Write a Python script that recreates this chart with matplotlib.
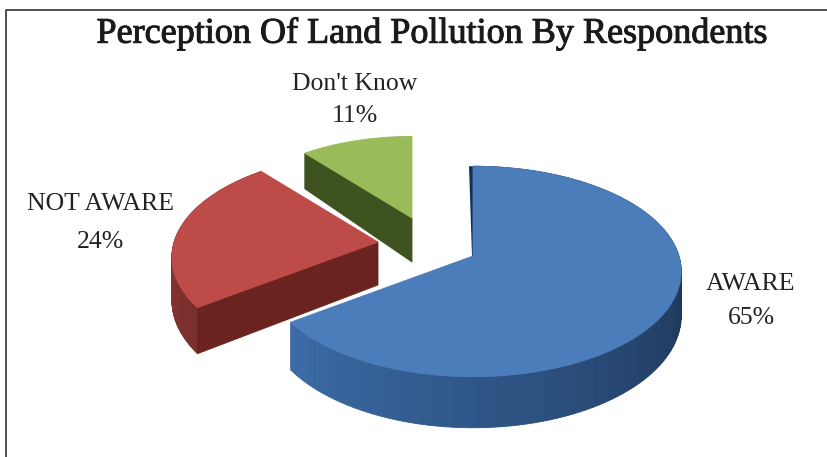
import numpy as np
import matplotlib
matplotlib.use('Agg')
import matplotlib.pyplot as plt
import matplotlib.patheffects as pe
from matplotlib.colors import to_rgb
from matplotlib.patches import Polygon

# Data
labels = ['AWARE', 'NOT AWARE', "Don't Know"]
shares = [65, 24, 11]
title = 'Perception Of Land Pollution By Respondents'

# Look of each slice, same order as the data
apex_x = [473, 378, 412]
apex_y = [256, 242, 218]
scales = [0.99, 0.98, 0.9]
depths = [44, 43, 44]
top_colors = ['#4a7dba', '#bd4c49', '#9abb59']
cut_colors = ['#3b6aa3', '#6b2320', '#3f5320']
side_left = ['#3c6ca8', '#93403d', '#5d7a2c']
side_right = ['#1b3354', '#7a2e2b', '#5d7a2c']
label_x = [751, 101, 355]
label_y = [301, 223, 100]
label_gap = [1.76, 1.98, 1.53]

# Pie shape in pixels
rx = 208
ry = 104
persp = 0.147


def project(theta):
    # theta is clockwise from 12 o'clock
    x = np.sin(theta)
    y = np.cos(theta)
    d = 1 + persp * y
    return x * rx / d, -y * ry / d, 1 / d


fig = plt.figure(figsize=(8.28, 4.57), dpi=100)
ax = fig.add_axes([0, 0, 1, 1])
ax.set_xlim(0, 828)
ax.set_ylim(457, 0)
ax.axis('off')

# Frame, open at the right and bottom
ax.plot([6, 6, 828], [457, 10, 10], color='#333333', lw=1.2)

ends = np.cumsum(shares) / np.sum(shares) * 2 * np.pi
starts = ends - np.array(shares) / np.sum(shares) * 2 * np.pi

# Far slices first
for i in [2, 1, 0]:
    t = np.linspace(starts[i], ends[i], 120)
    px, py, pd = project(t)
    xs = apex_x[i] + px * scales[i]
    ys = apex_y[i] + py * scales[i]
    dp = depths[i] * pd * scales[i]
    base = i * -10

    # Outer wall, shaded along the arc
    if i < 2:
        c1 = np.array(to_rgb(side_left[i]))
        c2 = np.array(to_rgb(side_right[i]))
        for j in range(len(t) - 1):
            if i == 0:
                f = 1 - np.clip((t[j] - np.pi / 2) / (ends[i] - np.pi / 2), 0, 1)
            else:
                f = 1 - (t[j] - starts[i]) / (ends[i] - starts[i])
            col = c1 + (c2 - c1) * f
            quad = [(xs[j], ys[j]), (xs[j + 1], ys[j + 1]),
                    (xs[j + 1], ys[j + 1] + dp[j + 1]), (xs[j], ys[j] + dp[j])]
            ax.add_patch(Polygon(quad, fc=col, ec=col, lw=0.6, zorder=base + 1))

    # Cut wall that faces the viewer
    if i == 0:
        # seen almost edge on along 12 o'clock
        quad = [(xs[0], ys[0]), (apex_x[i], apex_y[i]),
                (apex_x[i] - 1, apex_y[i]), (xs[0] - 4, ys[0])]
        ax.add_patch(Polygon(quad, fc='#14305a', ec='none', zorder=-1))
    else:
        quad = [(xs[0], ys[0]), (apex_x[i], apex_y[i]),
                (apex_x[i], apex_y[i] + depths[i]), (xs[0], ys[0] + dp[0])]
        ax.add_patch(Polygon(quad, fc=cut_colors[i], ec=cut_colors[i], lw=0.6,
                             zorder=base + 2))

    # Top face
    top = list(zip(xs, ys)) + [(apex_x[i], apex_y[i])]
    ax.add_patch(Polygon(top, fc=top_colors[i], ec=top_colors[i], lw=0.6,
                         zorder=base + 3))

    ax.text(label_x[i], label_y[i], f'{labels[i]}\n{shares[i]}%',
            family='Liberation Serif', fontsize=18.5, color='#222222',
            ha='center', va='center', linespacing=label_gap[i])

ax.text(432, 34, title, family='Liberation Serif', fontsize=26,
        color='#1a1a1a', ha='center', va='center',
        path_effects=[pe.withStroke(linewidth=0.7, foreground='#1a1a1a')])

fig.savefig('out.png', dpi=100)
